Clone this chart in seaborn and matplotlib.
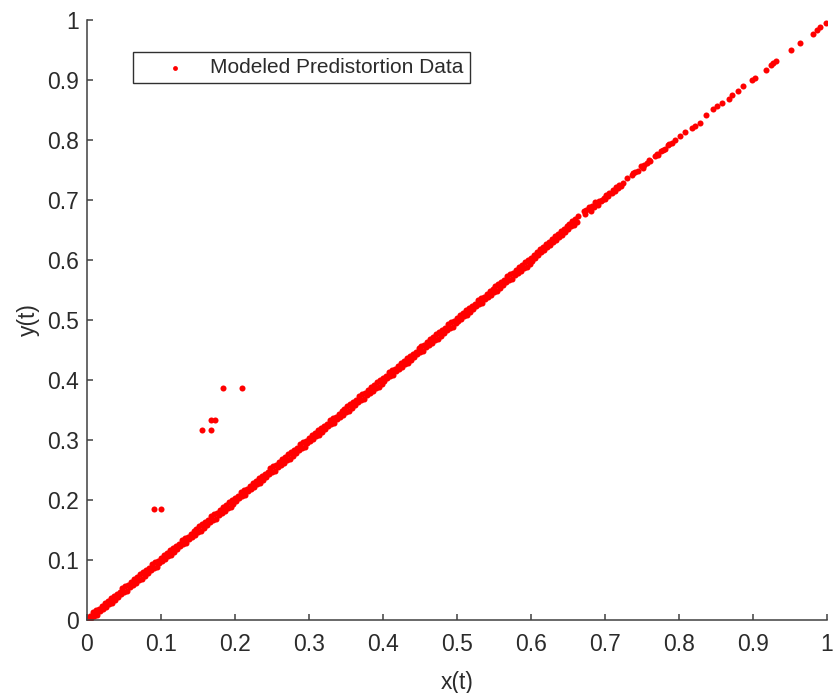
import matplotlib
matplotlib.use("Agg")
import matplotlib.pyplot as plt
import seaborn as sns
import pandas as pd

# Main band of samples, x(t) from 0 to 0.6 (upper and lower rows of the band)
x_band = [
    0.000, 0.004, 0.008, 0.012, 0.016, 0.020, 0.024, 0.028, 0.032, 0.036,
    0.040, 0.044, 0.048, 0.052, 0.056, 0.060, 0.064, 0.068, 0.072, 0.076,
    0.080, 0.084, 0.088, 0.092, 0.096, 0.100, 0.104, 0.108, 0.112, 0.116,
    0.120, 0.124, 0.128, 0.132, 0.136, 0.140, 0.144, 0.148, 0.152, 0.156,
    0.160, 0.164, 0.168, 0.172, 0.176, 0.180, 0.184, 0.188, 0.192, 0.196,
    0.200, 0.204, 0.208, 0.212, 0.216, 0.220, 0.224, 0.228, 0.232, 0.236,
    0.240, 0.244, 0.248, 0.252, 0.256, 0.260, 0.264, 0.268, 0.272, 0.276,
    0.280, 0.284, 0.288, 0.292, 0.296, 0.300, 0.304, 0.308, 0.312, 0.316,
    0.320, 0.324, 0.328, 0.332, 0.336, 0.340, 0.344, 0.348, 0.352, 0.356,
    0.360, 0.364, 0.368, 0.372, 0.376, 0.380, 0.384, 0.388, 0.392, 0.396,
    0.400, 0.404, 0.408, 0.412, 0.416, 0.420, 0.424, 0.428, 0.432, 0.436,
    0.440, 0.444, 0.448, 0.452, 0.456, 0.460, 0.464, 0.468, 0.472, 0.476,
    0.480, 0.484, 0.488, 0.492, 0.496, 0.500, 0.504, 0.508, 0.512, 0.516,
    0.520, 0.524, 0.528, 0.532, 0.536, 0.540, 0.544, 0.548, 0.552, 0.556,
    0.560, 0.564, 0.568, 0.572, 0.576, 0.580, 0.584, 0.588, 0.592, 0.596,
    0.600,
]
y_band = [
    0.001, 0.007, 0.013, 0.016, 0.019, 0.024, 0.029, 0.031, 0.036, 0.040,
    0.044, 0.047, 0.053, 0.056, 0.059, 0.064, 0.069, 0.071, 0.076, 0.080,
    0.084, 0.087, 0.093, 0.096, 0.099, 0.104, 0.109, 0.111, 0.116, 0.120,
    0.124, 0.127, 0.133, 0.136, 0.139, 0.144, 0.149, 0.151, 0.156, 0.160,
    0.164, 0.167, 0.173, 0.176, 0.179, 0.184, 0.189, 0.191, 0.196, 0.200,
    0.204, 0.207, 0.213, 0.216, 0.219, 0.224, 0.229, 0.231, 0.236, 0.240,
    0.244, 0.247, 0.253, 0.256, 0.259, 0.264, 0.269, 0.271, 0.276, 0.280,
    0.284, 0.287, 0.293, 0.296, 0.299, 0.304, 0.309, 0.311, 0.316, 0.320,
    0.324, 0.327, 0.333, 0.336, 0.339, 0.344, 0.349, 0.351, 0.356, 0.360,
    0.364, 0.367, 0.373, 0.376, 0.379, 0.384, 0.389, 0.391, 0.396, 0.400,
    0.404, 0.407, 0.413, 0.416, 0.419, 0.424, 0.429, 0.431, 0.436, 0.440,
    0.444, 0.447, 0.453, 0.456, 0.459, 0.464, 0.469, 0.471, 0.476, 0.480,
    0.484, 0.487, 0.493, 0.496, 0.499, 0.504, 0.509, 0.511, 0.516, 0.520,
    0.524, 0.527, 0.533, 0.536, 0.539, 0.544, 0.549, 0.551, 0.556, 0.560,
    0.564, 0.567, 0.573, 0.576, 0.579, 0.584, 0.589, 0.591, 0.596, 0.600,
    0.604,
]
x_band2 = [
    0.002, 0.006, 0.010, 0.014, 0.018, 0.022, 0.026, 0.030, 0.034, 0.038,
    0.042, 0.046, 0.050, 0.054, 0.058, 0.062, 0.066, 0.070, 0.074, 0.078,
    0.082, 0.086, 0.090, 0.094, 0.098, 0.102, 0.106, 0.110, 0.114, 0.118,
    0.122, 0.126, 0.130, 0.134, 0.138, 0.142, 0.146, 0.150, 0.154, 0.158,
    0.162, 0.166, 0.170, 0.174, 0.178, 0.182, 0.186, 0.190, 0.194, 0.198,
    0.202, 0.206, 0.210, 0.214, 0.218, 0.222, 0.226, 0.230, 0.234, 0.238,
    0.242, 0.246, 0.250, 0.254, 0.258, 0.262, 0.266, 0.270, 0.274, 0.278,
    0.282, 0.286, 0.290, 0.294, 0.298, 0.302, 0.306, 0.310, 0.314, 0.318,
    0.322, 0.326, 0.330, 0.334, 0.338, 0.342, 0.346, 0.350, 0.354, 0.358,
    0.362, 0.366, 0.370, 0.374, 0.378, 0.382, 0.386, 0.390, 0.394, 0.398,
    0.402, 0.406, 0.410, 0.414, 0.418, 0.422, 0.426, 0.430, 0.434, 0.438,
    0.442, 0.446, 0.450, 0.454, 0.458, 0.462, 0.466, 0.470, 0.474, 0.478,
    0.482, 0.486, 0.490, 0.494, 0.498, 0.502, 0.506, 0.510, 0.514, 0.518,
    0.522, 0.526, 0.530, 0.534, 0.538, 0.542, 0.546, 0.550, 0.554, 0.558,
    0.562, 0.566, 0.570, 0.574, 0.578, 0.582, 0.586, 0.590, 0.594, 0.598,
]
y_band2 = [
    0.000, 0.003, 0.006, 0.009, 0.015, 0.018, 0.022, 0.027, 0.029, 0.034,
    0.038, 0.043, 0.046, 0.049, 0.055, 0.058, 0.062, 0.067, 0.069, 0.074,
    0.078, 0.083, 0.086, 0.089, 0.095, 0.098, 0.102, 0.107, 0.109, 0.114,
    0.118, 0.123, 0.126, 0.129, 0.135, 0.138, 0.142, 0.147, 0.149, 0.154,
    0.158, 0.163, 0.166, 0.169, 0.175, 0.178, 0.182, 0.187, 0.189, 0.194,
    0.198, 0.203, 0.206, 0.209, 0.215, 0.218, 0.222, 0.227, 0.229, 0.234,
    0.238, 0.243, 0.246, 0.249, 0.255, 0.258, 0.262, 0.267, 0.269, 0.274,
    0.278, 0.283, 0.286, 0.289, 0.295, 0.298, 0.302, 0.307, 0.309, 0.314,
    0.318, 0.323, 0.326, 0.329, 0.335, 0.338, 0.342, 0.347, 0.349, 0.354,
    0.358, 0.363, 0.366, 0.369, 0.375, 0.378, 0.382, 0.387, 0.389, 0.394,
    0.398, 0.403, 0.406, 0.409, 0.415, 0.418, 0.422, 0.427, 0.429, 0.434,
    0.438, 0.443, 0.446, 0.449, 0.455, 0.458, 0.462, 0.467, 0.469, 0.474,
    0.478, 0.483, 0.486, 0.489, 0.495, 0.498, 0.502, 0.507, 0.509, 0.514,
    0.518, 0.523, 0.526, 0.529, 0.535, 0.538, 0.542, 0.547, 0.549, 0.554,
    0.558, 0.563, 0.566, 0.569, 0.575, 0.578, 0.582, 0.587, 0.589, 0.594,
]

# Upper, sparser part of the curve, x(t) from 0.6 to 1
x_upper = [
    0.602, 0.604, 0.606, 0.608, 0.610, 0.612, 0.614, 0.616, 0.618, 0.620,
    0.622, 0.624, 0.626, 0.628, 0.630, 0.632, 0.634, 0.636, 0.638, 0.640,
    0.642, 0.644, 0.646, 0.648, 0.650, 0.652, 0.654, 0.656, 0.658, 0.660,
    0.662, 0.664,
    0.671, 0.673, 0.675, 0.679, 0.681, 0.683, 0.685, 0.687, 0.690, 0.692,
    0.694, 0.696, 0.698, 0.700, 0.702, 0.704, 0.706, 0.709, 0.711, 0.713,
    0.715, 0.717, 0.719, 0.721, 0.724,
    0.730,
    0.736, 0.738, 0.740, 0.745, 0.749, 0.751, 0.753, 0.757, 0.759, 0.761,
    0.768, 0.770, 0.772, 0.776, 0.779, 0.781, 0.785, 0.787, 0.790,
    0.795, 0.801, 0.808, 0.817, 0.822, 0.828,
    0.836, 0.846, 0.851, 0.858, 0.867, 0.871, 0.880, 0.887, 0.898, 0.903,
    0.917, 0.924, 0.927, 0.931, 0.951, 0.964, 0.981, 0.986, 0.991, 0.999,
]
y_upper = [
    0.599, 0.609, 0.604, 0.614, 0.608, 0.619, 0.613, 0.622, 0.617, 0.627,
    0.622, 0.630, 0.625, 0.635, 0.630, 0.640, 0.634, 0.643, 0.639, 0.648,
    0.642, 0.652, 0.647, 0.657, 0.651, 0.660, 0.656, 0.665, 0.659, 0.669,
    0.664, 0.673,
    0.681, 0.676, 0.683, 0.688, 0.682, 0.690, 0.688, 0.696, 0.691, 0.699,
    0.698, 0.700, 0.703, 0.702, 0.708, 0.706, 0.712, 0.711, 0.717, 0.715,
    0.721, 0.720, 0.725, 0.723, 0.729,
    0.736,
    0.741, 0.745, 0.746, 0.749, 0.756, 0.754, 0.758, 0.762, 0.766, 0.765,
    0.774, 0.777, 0.775, 0.782, 0.783, 0.785, 0.791, 0.793, 0.795,
    0.800, 0.807, 0.813, 0.820, 0.824, 0.828,
    0.842, 0.851, 0.856, 0.861, 0.869, 0.875, 0.882, 0.890, 0.900, 0.904,
    0.917, 0.925, 0.929, 0.932, 0.950, 0.961, 0.977, 0.983, 0.989, 0.995,
]

# Off-curve samples
x_outlier = [0.090, 0.100, 0.155, 0.168, 0.168, 0.173, 0.184, 0.209]
y_outlier = [0.185, 0.185, 0.317, 0.317, 0.333, 0.333, 0.386, 0.386]

tick_values = [0, 0.1, 0.2, 0.3, 0.4, 0.5, 0.6, 0.7, 0.8, 0.9, 1]
tick_labels = ["0", "0.1", "0.2", "0.3", "0.4", "0.5", "0.6", "0.7", "0.8", "0.9", "1"]

df = pd.DataFrame({
    "x": x_band + x_band2 + x_upper + x_outlier,
    "y": y_band + y_band2 + y_upper + y_outlier,
})

sns.set_theme(style="white")
plt.rcParams["font.family"] = ["Liberation Sans", "DejaVu Sans"]

axis_color = "#404040"
text_color = "#2b2b2b"

fig = plt.figure(figsize=(8.33, 6.93), dpi=100)
ax = fig.add_axes([0.1044, 0.1053, 0.8884, 0.8658])

sns.scatterplot(data=df, x="x", y="y", color="#ff0000", s=19, linewidth=0,
                label="Modeled Predistortion Data", ax=ax)

ax.set_xlim(0, 1)
ax.set_ylim(0, 1)
ax.set_xticks(tick_values)
ax.set_yticks(tick_values)
ax.set_xticklabels(tick_labels)
ax.set_yticklabels(tick_labels)

for side in ("top", "right"):
    ax.spines[side].set_visible(False)
for side in ("left", "bottom"):
    ax.spines[side].set_color(axis_color)
    ax.spines[side].set_linewidth(1.1)

ax.tick_params(axis="both", bottom=True, left=True, direction="in", length=4,
               width=1.1, color=axis_color, labelsize=16.5, labelcolor=text_color)
ax.tick_params(axis="x", pad=9.5)
ax.tick_params(axis="y", pad=6)

ax.set_xlabel("x(t)", fontsize=16.5, color=text_color, labelpad=11)
ax.set_ylabel("y(t)", fontsize=16.5, color=text_color, labelpad=5)

leg = ax.legend(loc="upper left", bbox_to_anchor=(0.062, 0.947), borderaxespad=0,
                fontsize=15.0, frameon=True, fancybox=False, framealpha=1,
                handlelength=3.48, handletextpad=-0.07, borderpad=0.3,
                markerscale=0.8)
leg.get_frame().set_edgecolor("#303030")
leg.get_frame().set_linewidth(1.0)
for t in leg.get_texts():
    t.set_color(text_color)

fig.savefig("out.png", dpi=100)
